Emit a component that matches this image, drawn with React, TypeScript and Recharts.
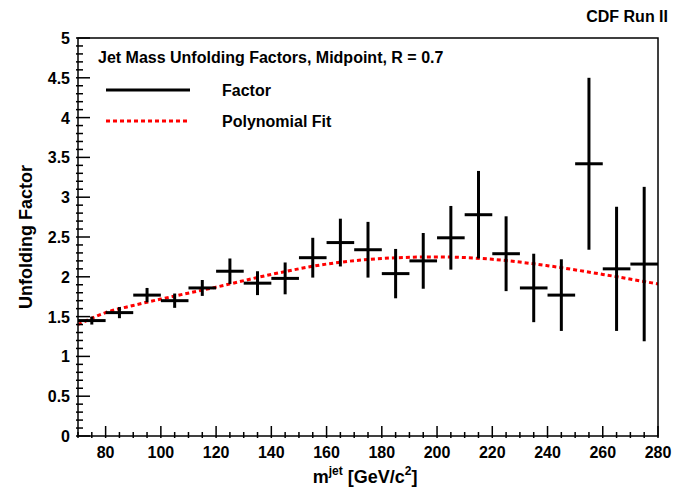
import React from 'react';
import {
  ComposedChart, Scatter, Line, XAxis, YAxis, ErrorBar
} from 'recharts';

// --- DATA ---
const binCenters = [75, 85, 95, 105, 115, 125, 135, 145, 155, 165, 175, 185, 195, 205, 215, 225, 235, 245, 255, 265, 275];
const factors = [1.45, 1.55, 1.77, 1.70, 1.86, 2.07, 1.92, 1.98, 2.24, 2.43, 2.34, 2.04, 2.20, 2.49, 2.78, 2.29, 1.86, 1.77, 3.42, 2.10, 2.16];
const factorErrors = [0.05, 0.07, 0.09, 0.09, 0.1, 0.16, 0.15, 0.2, 0.25, 0.3, 0.35, 0.31, 0.35, 0.4, 0.55, 0.47, 0.43, 0.45, 1.08, 0.78, 0.97];
const fitX = [70, 80, 90, 100, 120, 140, 160, 180, 200, 220, 240, 260, 280];
const fitY = [1.40, 1.55, 1.64, 1.72, 1.87, 2.03, 2.16, 2.23, 2.25, 2.22, 2.14, 2.03, 1.91];
const xLabels = [80, 100, 120, 140, 160, 180, 200, 220, 240, 260, 280];
const yLabels = [0, 0.5, 1, 1.5, 2, 2.5, 3, 3.5, 4, 4.5, 5];

const points = binCenters.map((x, i) => ({ x, y: factors[i], ex: 5, ey: factorErrors[i] }));
const fitData = fitX.map((x, i) => ({ x, fit: fitY[i] }));

const xTicks: number[] = [];
for (let v = 70; v <= 280; v += 5) xTicks.push(v);
const yTicks: number[] = [];
for (let k = 0; k <= 50; k++) yTicks.push(k / 10);

const font = '"Liberation Sans", Arial, sans-serif';

const XTick = (props: any) => {
  const { x, y, payload } = props;
  const major = xLabels.includes(payload.value);
  return (
    <g>
      <line x1={x} y1={y} x2={x} y2={y - (major ? 12 : 6)} stroke="#000" strokeWidth={1.5} />
      {major && (
        <text x={x} y={y + 20} textAnchor="middle" fontFamily={font} fontWeight="bold" fontSize={16} fill="#000">
          {payload.value}
        </text>
      )}
    </g>
  );
};

const YTick = (props: any) => {
  const { x, y, payload } = props;
  const v = Math.round(payload.value * 10) / 10;
  const major = yLabels.includes(v);
  return (
    <g>
      <line x1={x} y1={y} x2={x + (major ? 14 : 7)} y2={y} stroke="#000" strokeWidth={1.5} />
      {major && (
        <text x={x - 6} y={y + 6} textAnchor="end" fontFamily={font} fontWeight="bold" fontSize={16} fill="#000">
          {v}
        </text>
      )}
    </g>
  );
};

export default function App() {
  return (
    <div style={{ position: 'absolute', left: 0, top: 0, width: 686, height: 490, background: '#fff' }}>
      <ComposedChart width={686} height={490} margin={{ top: 38, right: 28, left: 0, bottom: 0 }}>
        <XAxis type="number" dataKey="x" domain={[70, 280]} ticks={xTicks} interval={0}
          tick={<XTick />} tickLine={false} tickSize={0} axisLine={false} height={54} allowDataOverflow />
        <YAxis type="number" domain={[0, 5]} ticks={yTicks} interval={0}
          tick={<YTick />} tickLine={false} tickSize={0} axisLine={false} width={78} allowDataOverflow />
        <Line data={fitData} dataKey="fit" type="monotone" stroke="#ff0000" strokeWidth={3}
          strokeDasharray="4 3" dot={false} isAnimationActive={false} />
        <Scatter data={points} dataKey="y" shape={() => <g />} isAnimationActive={false}>
          <ErrorBar dataKey="ey" direction="y" width={0} stroke="#000" strokeWidth={3} />
          <ErrorBar dataKey="ex" direction="x" width={0} stroke="#000" strokeWidth={3} />
        </Scatter>
      </ComposedChart>
      <svg width={686} height={490} style={{ position: 'absolute', left: 0, top: 0, pointerEvents: 'none' }}>
        <rect x={78} y={38} width={580} height={398} fill="none" stroke="#000" strokeWidth={1.5} />
        <text x={668} y={22} textAnchor="end" fontFamily={font} fontWeight="bold" fontSize={16}>CDF Run II</text>
        <text x={98} y={63} fontFamily={font} fontWeight="bold" fontSize={16}>Jet Mass Unfolding Factors, Midpoint, R = 0.7</text>
        <line x1={106} y1={90} x2={190} y2={90} stroke="#000" strokeWidth={3} />
        <text x={222} y={96} fontFamily={font} fontWeight="bold" fontSize={16}>Factor</text>
        <line x1={106} y1={121} x2={190} y2={121} stroke="#ff0000" strokeWidth={3} strokeDasharray="4 3" />
        <text x={222} y={127} fontFamily={font} fontWeight="bold" fontSize={16}>Polynomial Fit</text>
        <text transform="translate(32,237) rotate(-90)" textAnchor="middle" fontFamily={font} fontWeight="bold" fontSize={18}>Unfolding Factor</text>
        <text x={365} y={483} textAnchor="middle" fontFamily={font} fontWeight="bold" fontSize={18}>
          m<tspan dy={-8} fontSize={12}>jet</tspan><tspan dy={8}> [GeV/c</tspan><tspan dy={-8} fontSize={12}>2</tspan><tspan dy={8}>]</tspan>
        </text>
      </svg>
    </div>
  );
}
